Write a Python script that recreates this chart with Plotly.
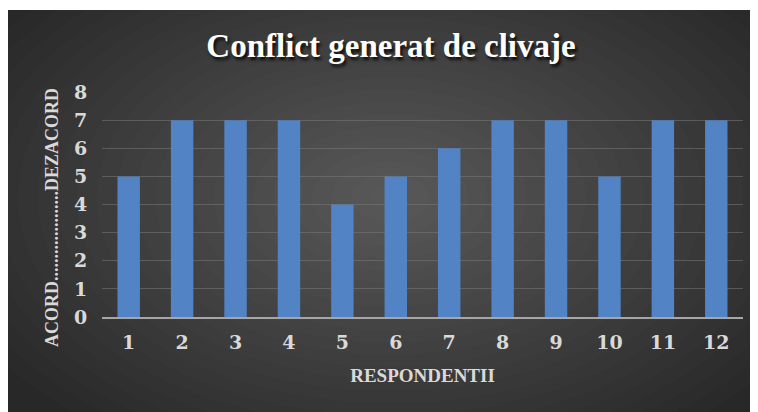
import plotly.graph_objects as go

categories = ["1", "2", "3", "4", "5", "6", "7", "8", "9", "10", "11", "12"]
values = [5, 7, 7, 7, 4, 5, 6, 7, 7, 5, 7, 7]
y_ticks = [0, 1, 2, 3, 4, 5, 6, 7, 8]
title_text = "Conflict generat de clivaje"
x_title = "RESPONDENTII"
y_title = "ACORD....................DEZACORD"

# figure is placed at (8, 8) in the page by the default body margin
W, H = 750, 404
ML, MR, MT, MB = 94, 15, 84, 95
PW, PH = W - ML - MR, H - MT - MB


def px_to_paper_x(px):
    return (px - ML) / PW


def px_to_paper_y(py):
    return (H - MB - py) / PH


shapes = [
    dict(type="rect", xref="paper", yref="paper", layer="below",
         x0=px_to_paper_x(0), x1=px_to_paper_x(W),
         y0=px_to_paper_y(H), y1=px_to_paper_y(2),
         fillcolor="#282828", line=dict(width=0))
]
# soft radial highlight approximated with stacked translucent ellipses
cx, cy = 382, 190
n = 24
for i in range(n):
    f = 1 - i / n
    rx, ry = 470 * f, 290 * f
    shapes.append(dict(type="circle", xref="paper", yref="paper", layer="below",
                       x0=px_to_paper_x(cx - rx), x1=px_to_paper_x(cx + rx),
                       y0=px_to_paper_y(cy + ry), y1=px_to_paper_y(cy - ry),
                       fillcolor="rgba(255,255,255,0.011)", line=dict(width=0)))

fig = go.Figure()
fig.add_trace(go.Bar(
    x=categories, y=values,
    marker=dict(color="#5283c4", line=dict(width=0)),
    hoverinfo="skip",
))

fig.add_annotation(
    text=y_title, textangle=-90, showarrow=False,
    xref="paper", yref="paper",
    x=px_to_paper_x(44), y=px_to_paper_y(210),
    xanchor="center", yanchor="middle",
    font=dict(family="Liberation Serif", size=18, color="#d9d9d9", weight="bold"),
)

fig.update_layout(
    width=W, height=H,
    margin=dict(l=ML, r=MR, t=MT, b=MB, pad=0),
    paper_bgcolor="#ffffff",
    plot_bgcolor="rgba(0,0,0,0)",
    bargap=0.58,
    showlegend=False,
    shapes=shapes,
    title=dict(text=title_text, x=383 / W, xanchor="center",
               y=1 - 37 / H, yanchor="middle", yref="container",
               font=dict(family="Liberation Serif", size=33, color="#ffffff",
                         weight="bold", shadow="2px 3px 3px rgba(0,0,0,0.8)")),
    xaxis=dict(
        type="category",
        tickfont=dict(family="DejaVu Serif", size=19, color="#d9d9d9", weight="bold"),
        ticks="outside", ticklen=7, tickcolor="rgba(0,0,0,0)",
        showgrid=False,
        showline=True, linecolor="#a6a6a6", linewidth=2,
        title=dict(text=x_title, standoff=17,
                   font=dict(family="Liberation Serif", size=19, color="#d9d9d9", weight="bold")),
    ),
    yaxis=dict(
        range=[0, 8], tickvals=y_ticks,
        tickfont=dict(family="DejaVu Serif", size=19, color="#d9d9d9", weight="bold"),
        ticks="outside", ticklen=10, tickcolor="rgba(0,0,0,0)",
        showgrid=True, gridcolor="rgba(120,120,120,0.55)", gridwidth=1,
        zeroline=False, showline=False,
    ),
)

fig.write_html("out.html")
